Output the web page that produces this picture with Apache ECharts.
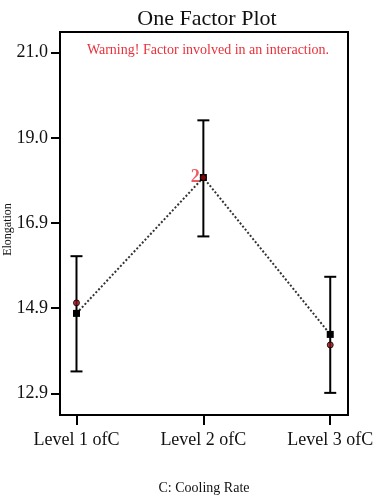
<!DOCTYPE html>
<html><head><meta charset="utf-8">
<script src="https://cdn.jsdelivr.net/npm/echarts@6/dist/echarts.min.js"></script>
<style>html,body{margin:0;padding:0;background:#fff}#c{width:373px;height:497px}</style>
</head><body><div id="c"></div>
<script>
const categories = ['Level 1 of C', 'Level 2 of C', 'Level 3 of C'];
const catLabels = ['Level 1 ofC', 'Level 2 ofC', 'Level 3 ofC'];
const categoryPos = [1, 2, 3];
const meanValues = [14.80, 18.03, 14.30];
const lowerValues = [13.42, 16.63, 12.91];
const upperValues = [16.16, 19.39, 15.67];
const actualValues = [15.05, 18.03, 14.05];
const yTickValues = [12.9, 14.925, 16.95, 18.975, 21.0];
const yTickLabels = ['12.9', '14.9', '16.9', '19.0', '21.0'];
const pointCountLabels = ['', '2', ''];

const serif = '"Liberation Serif", "DejaVu Serif", serif';
const chart = echarts.init(document.getElementById('c'), null, {renderer: 'canvas'});

const errData = categoryPos.map((x, i) => [x, lowerValues[i], upperValues[i]]);

chart.setOption({
  animation: false,
  backgroundColor: '#fff',
  title: [{
    text: 'One Factor Plot', left: 202, top: 3, textAlign: 'center',
    textStyle: {fontFamily: serif, fontSize: 22, fontWeight: 'normal', color: '#111'}
  }, {
    text: 'Warning! Factor involved in an interaction.', left: 203, top: 38, textAlign: 'center',
    textStyle: {fontFamily: serif, fontSize: 14, fontWeight: 'normal', color: '#e8303a'}
  }],
  grid: {left: 60, right: 25, top: 32, bottom: 82, containLabel: false, outerBoundsMode: 'none',
         show: true, borderColor: '#000', borderWidth: 2, backgroundColor: 'transparent'},
  xAxis: {
    type: 'value', min: 0.87, max: 3.14,
    name: 'C: Cooling Rate', nameLocation: 'middle', nameGap: 66, nameMoveOverlap: false,
    nameTextStyle: {fontFamily: serif, fontSize: 14, color: '#111'},
    axisLine: {show: true, lineStyle: {color: '#000', width: 2}},
    axisTick: {show: true, length: 10, lineStyle: {color: '#000', width: 2}, customValues: categoryPos},
    axisLabel: {
      customValues: categoryPos, margin: 16,
      fontFamily: serif, fontSize: 18, color: '#111',
      formatter: v => catLabels[categoryPos.indexOf(Math.round(v))] || ''
    },
    splitLine: {show: false}
  },
  yAxis: {
    type: 'value', min: 12.384, max: 21.49,
    name: 'Elongation', nameLocation: 'middle', nameGap: 46, nameRotate: 90, nameMoveOverlap: false,
    nameTextStyle: {fontFamily: serif, fontSize: 12, color: '#111', padding: [0, 12, 0, 0]},
    axisLine: {show: true, lineStyle: {color: '#000', width: 2}},
    axisTick: {show: true, length: 9, lineStyle: {color: '#000', width: 2}, customValues: yTickValues},
    axisLabel: {
      customValues: yTickValues, margin: 12,
      fontFamily: serif, fontSize: 18, color: '#111',
      formatter: v => {
        let best = 0;
        yTickValues.forEach((t, i) => { if (Math.abs(t - v) < Math.abs(yTickValues[best] - v)) best = i; });
        return yTickLabels[best];
      }
    },
    splitLine: {show: false}
  },
  series: [{
    type: 'custom', name: 'error', z: 2,
    data: errData,
    renderItem: (params, api) => {
      const x = api.value(0);
      const lo = api.coord([x, api.value(1)]);
      const hi = api.coord([x, api.value(2)]);
      const hw = 6;
      const style = {stroke: '#000', lineWidth: 2};
      return {type: 'group', children: [
        {type: 'line', shape: {x1: lo[0], y1: lo[1], x2: hi[0], y2: hi[1]}, style},
        {type: 'line', shape: {x1: lo[0] - hw, y1: lo[1], x2: lo[0] + hw, y2: lo[1]}, style},
        {type: 'line', shape: {x1: hi[0] - hw, y1: hi[1], x2: hi[0] + hw, y2: hi[1]}, style}
      ]};
    }
  }, {
    type: 'line', name: 'mean', z: 3,
    data: categoryPos.map((x, i) => [x, meanValues[i]]),
    symbol: 'rect', symbolSize: 7,
    itemStyle: {color: '#000'},
    lineStyle: {color: '#333', width: 2, type: [2, 2]}
  }, {
    type: 'scatter', name: 'actual', z: 4,
    data: categoryPos.map((x, i) => [x, actualValues[i]]),
    symbol: 'circle', symbolSize: 6,
    itemStyle: {color: '#9a0a10', borderColor: '#000', borderWidth: 1},
    label: {
      show: true, position: 'left', distance: 0,
      formatter: p => pointCountLabels[p.dataIndex],
      color: '#e8303a', fontFamily: serif, fontSize: 18, fontWeight: 'bold'
    }
  }]
});
</script></body></html>
